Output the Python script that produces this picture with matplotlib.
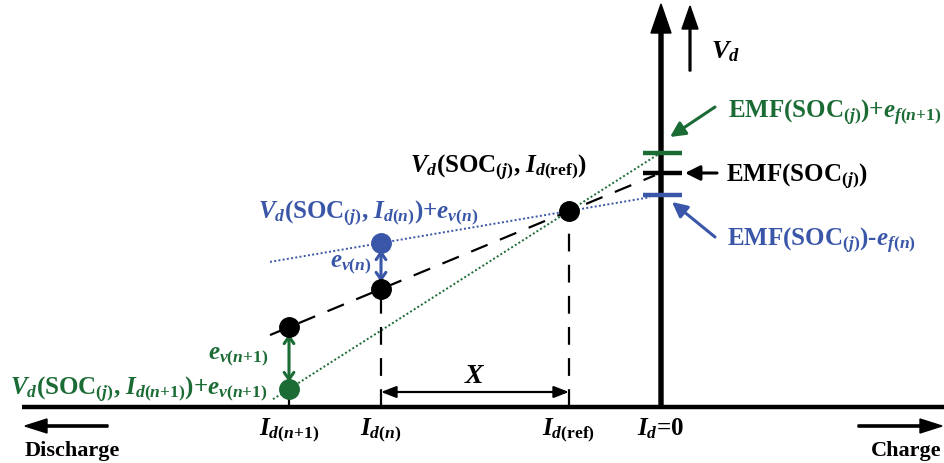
import matplotlib
matplotlib.use("Agg")
import matplotlib.pyplot as plt
import numpy as np

plt.rcParams['font.family'] = ['Liberation Serif', 'DejaVu Serif']
plt.rcParams['font.weight'] = 'bold'
plt.rcParams['mathtext.fontset'] = 'custom'
plt.rcParams['mathtext.rm'] = 'Liberation Serif:bold'
plt.rcParams['mathtext.it'] = 'Liberation Serif:bold:italic'
plt.rcParams['mathtext.bf'] = 'Liberation Serif:bold'

# ---- data (schematic units: current axis position, voltage level) ----
I_points = [289, 381, 569]             # I_d(n+1), I_d(n), I_d(ref)
I_zero = 661                            # I_d = 0
V_black = [136, 174, 252]               # V_d(SOC_j, I) on the reference line
V_blue_n = 220                          # V_d(SOC_j, I_d(n)) + e_v(n)
V_green_n1 = 74                         # V_d(SOC_j, I_d(n+1)) + e_v(n+1)
V_axis = 56                             # level of current axis
I_labels = [r'$I_{d(n{+}\mathit{1})}$', r'$I_{d(n)}$', r'$I_{d\mathrm{(ref)}}$']

GREEN = '#1b6b35'
BLUE = '#3a56a8'
W, H = 944, 464

fig = plt.figure(figsize=(W / 100, H / 100), dpi=100)
ax = fig.add_axes([0, 0, 1, 1])
ax.set_xlim(0, W)
ax.set_ylim(0, H)
ax.axis('off')

def line_through(x1, y1, x2, y2):
    k = (y2 - y1) / (x2 - x1)
    return lambda x: y1 + k * (np.asarray(x) - x1)

f_black = line_through(I_points[1], V_black[1], I_points[2], V_black[2])
f_blue = line_through(I_points[1], V_blue_n, I_points[2], V_black[2])
f_green = line_through(I_points[0], V_green_n1, I_points[2], V_black[2])
EMF = float(f_black(I_zero))
EMF_g = float(f_green(I_zero))
EMF_b = float(f_blue(I_zero))

# axes
ax.plot([22, W], [V_axis, V_axis], color='k', lw=3.2, solid_capstyle='butt', zorder=3)
ax.arrow(I_zero, V_axis, 0, H - 5 - V_axis, width=4, head_width=20, head_length=29,
         length_includes_head=True, color='k', zorder=3)
# small Vd arrow
ax.arrow(690, H - 72, 0, 65, width=1.8, head_width=16, head_length=23,
         length_includes_head=True, color='k')
ax.text(711, H - 52, r'$V_d$', fontsize=19, ha='left', va='center')

# lines
xs = np.array([270, 655])
ax.plot(xs, f_black(xs), color='k', lw=1.6, dashes=(8, 6), zorder=2)
xg = np.array([273, 663])
ax.plot(xg, f_green(xg), color=GREEN, lw=1.4, ls=(0, (1, 1.2)), zorder=2)
xb = np.array([270, 650])
ax.plot(xb, f_blue(xb), color=BLUE, lw=1.4, ls=(0, (1, 1.2)), zorder=2)

# EMF ticks
for v, c in [(EMF_g, GREEN), (EMF, 'k'), (EMF_b, BLUE)]:
    ax.plot([643, 682], [v, v], color=c, lw=3.2, solid_capstyle='butt', zorder=4)

# vertical drop lines
ax.plot([I_points[1]] * 2, [V_axis, V_black[1]], color='k', lw=1.6, dashes=(8, 6))
ax.plot([I_points[2]] * 2, [V_axis, V_black[2]], color='k', lw=1.6, dashes=(8, 6))
ax.plot([I_points[0]] * 2, [V_axis, V_green_n1], color='k', lw=1.6)

# points
ax.plot(I_points, V_black, 'o', color='k', ms=14, zorder=5)
ax.plot([I_points[1]], [V_blue_n], 'o', color=BLUE, ms=14, zorder=5)
ax.plot([I_points[0]], [V_green_n1], 'o', color=GREEN, ms=14, zorder=5)

# error arrows
ax.annotate('', xy=(I_points[1], V_blue_n - 7), xytext=(I_points[1], V_black[1] + 7),
            arrowprops=dict(arrowstyle='<->,head_length=0.5,head_width=0.35', lw=2.2,
                            color=BLUE, shrinkA=0, shrinkB=0))
ax.annotate('', xy=(I_points[0], V_green_n1 + 7), xytext=(I_points[0], V_black[0] - 7),
            arrowprops=dict(arrowstyle='<->,head_length=0.5,head_width=0.35', lw=2.2,
                            color=GREEN, shrinkA=0, shrinkB=0))

# X arrow
ax.annotate('', xy=(I_points[1], H - 393), xytext=(I_points[2], H - 393),
            arrowprops=dict(arrowstyle='<|-|>,head_length=0.9,head_width=0.35', lw=1.6,
                            color='k', shrinkA=0, shrinkB=0))
ax.text((I_points[1] + I_points[2]) / 2, H - 377, r'$X$', fontsize=20, ha='center', va='center')

# EMF arrows
def farrow(x0, y0, x1, y1, c):
    ax.annotate('', xy=(x1, H - y1), xytext=(x0, H - y0),
                arrowprops=dict(arrowstyle='-|>,head_length=0.9,head_width=0.45', lw=2.2,
                                color=c, shrinkA=0, shrinkB=0))
farrow(715, 108, 670, 138, GREEN)
farrow(717, 174, 685, 174, 'k')
farrow(715, 238, 672, 203, BLUE)

fs = 18
ax.text(728, H - 112, r'EMF(SOC$_{(j)}$)+$e_{f(n{+}\mathit{1})}$', fontsize=fs, color=GREEN,
        ha='left', va='center')
ax.text(726, H - 176, r'EMF(SOC$_{(j)}$)', fontsize=fs, color='k', ha='left', va='center')
ax.text(727, H - 240, r'EMF(SOC$_{(j)}$)-$e_{f(n)}$', fontsize=fs, color=BLUE,
        ha='left', va='center')

ax.text(498, H - 167, r'$V_d$(SOC$_{(j)}$, $I_{d\mathrm{(ref)}}$)', fontsize=fs, color='k',
        ha='center', va='center')
ax.text(258, H - 213, r'$V_d$(SOC$_{(j)}$, $I_{d(n)}$)+$e_{v(n)}$', fontsize=fs, color=BLUE,
        ha='left', va='center')
ax.text(10, H - 389, r'$V_d$(SOC$_{(j)}$, $I_{d(n{+}\mathit{1})}$)+$e_{v(n{+}\mathit{1})}$',
        fontsize=fs, color=GREEN, ha='left', va='center')
ax.text(372, H - 264, r'$e_{v(n)}$', fontsize=fs, color=BLUE, ha='right', va='center')
ax.text(268, H - 356, r'$e_{v(n{+}\mathit{1})}$', fontsize=fs, color=GREEN, ha='right', va='center')

for x, lab in zip(I_points, I_labels):
    ax.text(x, H - 435, lab, fontsize=fs, ha='center', va='baseline')
ax.text(I_zero, H - 435, r'$I_d$=0', fontsize=fs, ha='center', va='baseline')

# charge / discharge
ax.arrow(108, H - 427, -83, 0, width=2.2, head_width=14, head_length=22,
         length_includes_head=True, color='k')
ax.arrow(858, H - 427, 84, 0, width=2.2, head_width=14, head_length=22,
         length_includes_head=True, color='k')
ax.text(25, H - 456, 'Discharge', fontsize=16, ha='left', va='baseline')
ax.text(941, H - 456, 'Charge', fontsize=16, ha='right', va='baseline')

fig.savefig('out.png', dpi=100)
